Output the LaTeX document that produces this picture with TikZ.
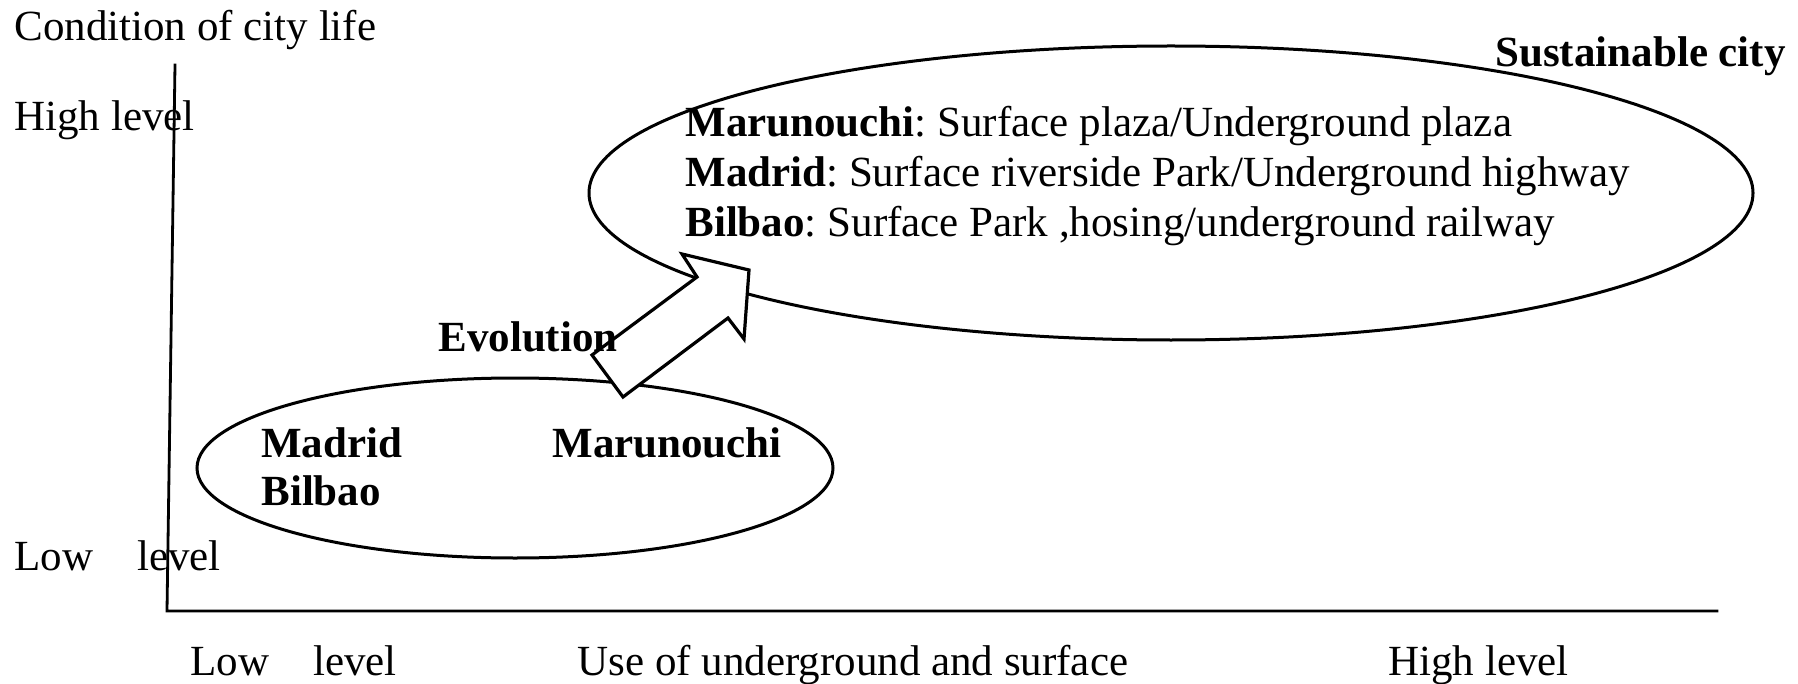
\documentclass[tikz,border=0pt]{standalone}
\usepackage{fontspec}
\setmainfont{Liberation Serif}
\usetikzlibrary{shapes.geometric}
\frenchspacing
\tikzset{
  lbl/.style={anchor=base west, inner sep=0pt, font=\fontsize{21.5}{24}\selectfont},
  blbl/.style={lbl, font=\fontsize{21.5}{24}\selectfont\bfseries},
  oval/.style={draw, ellipse, line width=1.5pt, inner sep=0pt},
  axis/.style={line width=1.4pt, line cap=rect},
  blockarrow/.style={draw, line width=1.6pt, line join=miter, fill=white}
}
\begin{document}
\begin{tikzpicture}[x=0.5pt,y=-0.5pt]
\useasboundingbox (0,0) rectangle (1798,684);
% axes
\coordinate (ytop) at (175,65);
\coordinate (origin) at (167,611);
\coordinate (xend) at (1717,611);
\draw[axis] (ytop) -- (origin) -- (xend);
% ellipses
\node[oval, minimum width=582pt, minimum height=147pt] (big) at (1171,193) {};
\node[oval, minimum width=318pt, minimum height=90pt] (small) at (515,468) {};
% block arrow
\draw[blockarrow] (592,355) -- (697,277) -- (682,254) -- (749,270) -- (744,339) -- (728,318) -- (623,397) -- cycle;
% axis labels
\node[lbl] (ylab) at (14,41) {Condition of city life};
\node[lbl] (yhigh) at (14,131) {High level};
\node[lbl] (ylow) at (14,570) {Low\hspace{22pt}level};
\node[lbl] (xlow) at (190,675) {Low\hspace{22pt}level};
\node[lbl] (xlab) at (577,675) {Use of underground and surface};
\node[lbl] (xhigh) at (1388,675) {High level};
% titles
\node[blbl] (sust) at (1495,67) {Sustainable city};
\node[blbl] (evo) at (438,351) {Evolution};
% big ellipse text
\node[lbl] (l1) at (685,137) {\textbf{Marunouchi}: Surface plaza/Underground plaza};
\node[lbl] (l2) at (685,187) {\textbf{Madrid}: Surface riverside Park/Underground highway};
\node[lbl] (l3) at (685,236) {\textbf{Bilbao}: Surface Park ,hosing/underground railway};
% small ellipse text
\node[blbl] (s1) at (261,457) {Madrid};
\node[blbl] (s2) at (261,505) {Bilbao};
\node[blbl] (s3) at (552,457) {Marunouchi};
\end{tikzpicture}
\end{document}
